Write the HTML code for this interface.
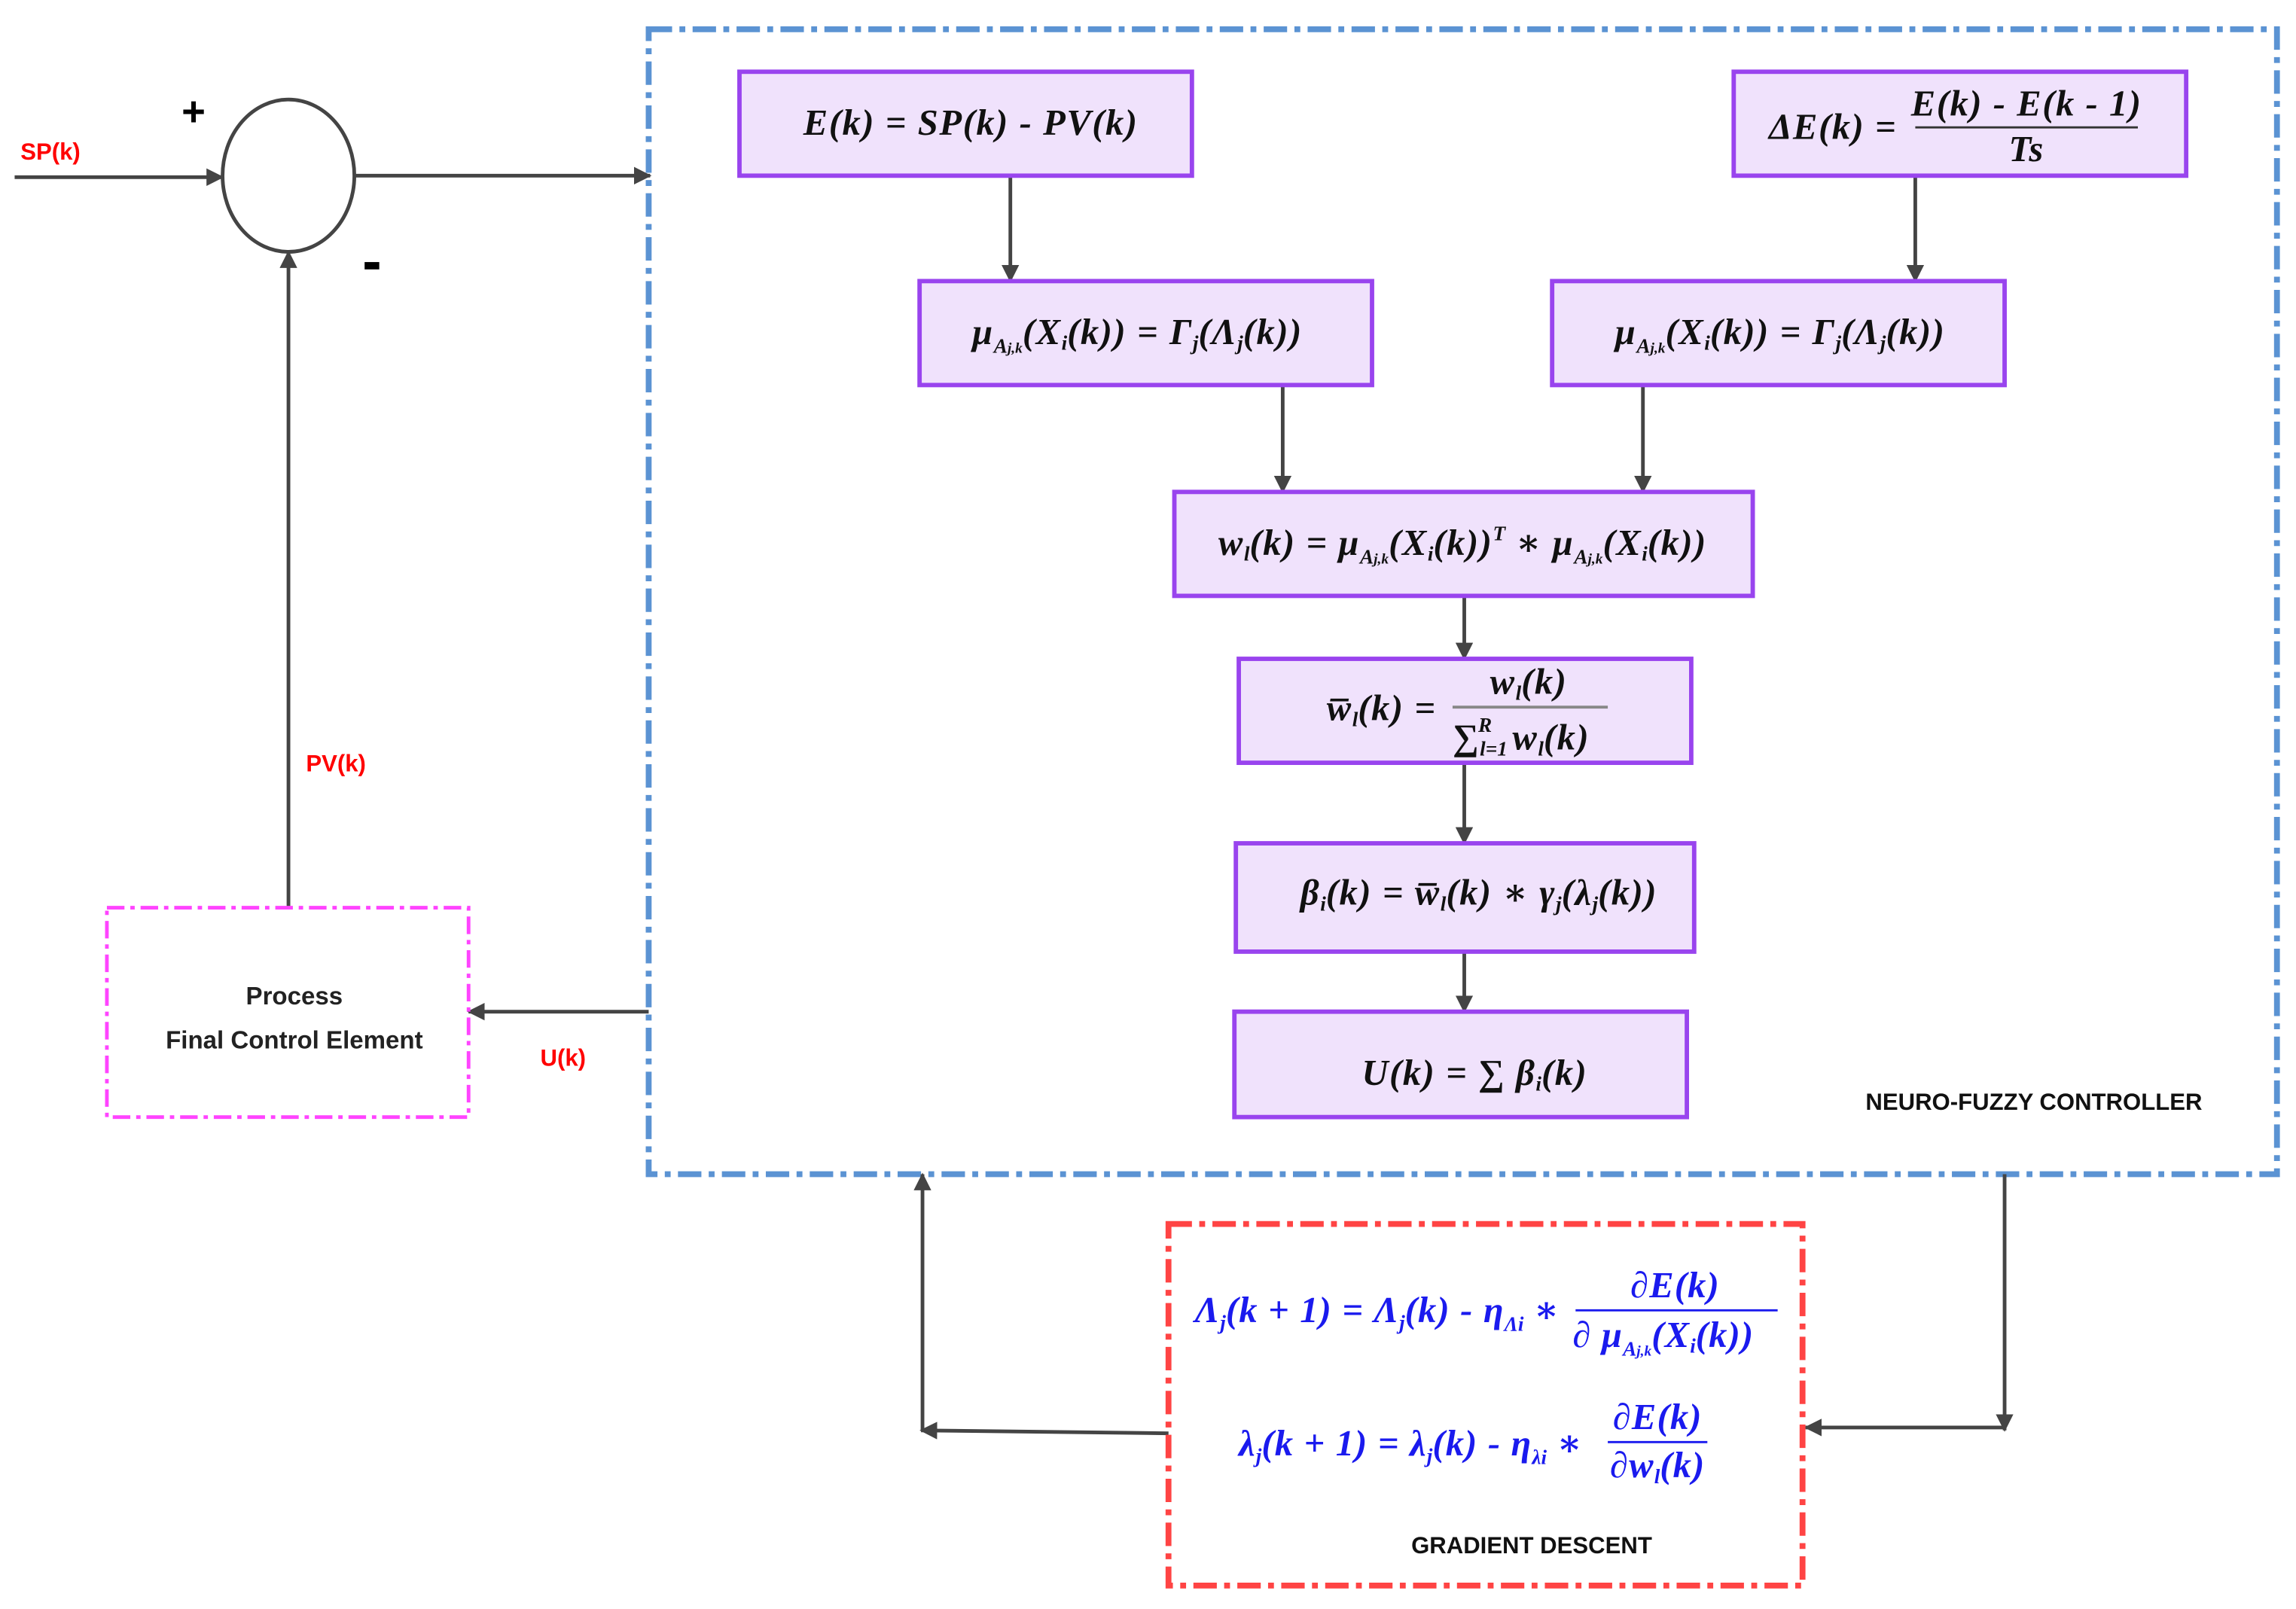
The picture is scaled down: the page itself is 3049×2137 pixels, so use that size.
<!DOCTYPE html>
<html><head><meta charset="utf-8"><style>
html,body{margin:0;padding:0;background:#fff;}
svg{display:block;}
.m{font-family:"Liberation Serif","DejaVu Serif",serif;font-style:italic;font-weight:bold;font-size:25px;letter-spacing:0.8px;fill:#111;}
.b{font-family:"Liberation Serif","DejaVu Serif",serif;font-style:italic;font-weight:bold;font-size:25px;letter-spacing:0.6px;fill:#1a1aee;}
.s{font-size:14px;letter-spacing:0;}
.lab{font-family:"Liberation Sans",sans-serif;font-weight:bold;font-size:16px;}
</style></head><body>
<svg width="3049" height="2137" viewBox="0 0 1568 1099" preserveAspectRatio="none" xmlns="http://www.w3.org/2000/svg">
<defs>
<marker id="a" markerWidth="12" markerHeight="12" refX="11" refY="6" orient="auto" markerUnits="userSpaceOnUse"><path d="M0,0 L12,6 L0,12 z" fill="#444"/></marker>
</defs>
<rect width="1568" height="1099" fill="#fff"/>
<rect x="443" y="20" width="1112" height="782" fill="none" stroke="#5b93d3" stroke-width="4" stroke-dasharray="16,5,4,5"/>
<ellipse cx="197" cy="120" rx="45" ry="52" fill="none" stroke="#444" stroke-width="2.5"/>
<text x="124" y="86" font-family="Liberation Sans" font-weight="bold" font-size="28">+</text>
<rect x="249" y="179" width="10" height="5" fill="#000"/>
<text x="14" y="109" class="lab" fill="#f00">SP(k)</text>
<text x="209" y="527" class="lab" fill="#f00">PV(k)</text>
<text x="369" y="728" class="lab" fill="#f00">U(k)</text>
<g stroke="#444" stroke-width="2.5" fill="none">
<line x1="10" y1="121" x2="152" y2="121" marker-end="url(#a)"/>
<line x1="242" y1="120" x2="444" y2="120" marker-end="url(#a)"/>
<line x1="197" y1="620" x2="197" y2="172" marker-end="url(#a)"/>
<line x1="443" y1="691" x2="320" y2="691" marker-end="url(#a)"/>
<line x1="690" y1="121" x2="690" y2="192" marker-end="url(#a)"/>
<line x1="1308" y1="121" x2="1308" y2="192" marker-end="url(#a)"/>
<line x1="876" y1="264" x2="876" y2="336" marker-end="url(#a)"/>
<line x1="1122" y1="264" x2="1122" y2="336" marker-end="url(#a)"/>
<line x1="1000" y1="408" x2="1000" y2="450" marker-end="url(#a)"/>
<line x1="1000" y1="522" x2="1000" y2="576" marker-end="url(#a)"/>
<line x1="1000" y1="651" x2="1000" y2="691" marker-end="url(#a)"/>
<line x1="798" y1="979" x2="629" y2="977" marker-end="url(#a)"/>
<line x1="630" y1="977" x2="630" y2="802" marker-end="url(#a)"/>
<line x1="1369" y1="802" x2="1369" y2="977" marker-end="url(#a)"/>
<line x1="1369" y1="975" x2="1233" y2="975" marker-end="url(#a)"/>
</g>
<rect x="73" y="620" width="247" height="143" fill="none" stroke="#ff44ff" stroke-width="2.5" stroke-dasharray="12,4,3,4"/>
<text x="201" y="686" text-anchor="middle" font-family="Liberation Sans" font-weight="bold" font-size="17" fill="#222">Process</text>
<text x="201" y="716" text-anchor="middle" font-family="Liberation Sans" font-weight="bold" font-size="17" fill="#222">Final Control Element</text>
<g fill="#f0e2fc" stroke="#9944ee" stroke-width="3">
<rect x="505" y="49" width="309" height="71"/>
<rect x="1184" y="49" width="309" height="71"/>
<rect x="628" y="192" width="309" height="71"/>
<rect x="1060" y="192" width="309" height="71"/>
<rect x="802" y="336" width="395" height="71"/>
<rect x="846" y="450" width="309" height="71"/>
<rect x="844" y="576" width="313" height="74"/>
<rect x="843" y="691" width="309" height="72"/>
</g>
<text x="663" y="92" text-anchor="middle" class="m">E(k) = SP(k) - PV(k)</text>
<text x="1208" y="95" class="m">ΔE(k) =</text>
<text x="1384" y="79" text-anchor="middle" class="m">E(k) - E(k - 1)</text>
<line x1="1308" y1="87" x2="1460" y2="87" stroke="#333" stroke-width="1.5"/>
<text x="1384" y="110" text-anchor="middle" class="m">Ts</text>
<text x="664" y="235" class="m">μ<tspan class="s" dy="6">A<tspan font-size="10">j,k</tspan></tspan><tspan dy="-6">(X</tspan><tspan class="s" dy="4">i</tspan><tspan dy="-4">(k)) = Γ</tspan><tspan class="s" dy="4">j</tspan><tspan dy="-4">(Λ</tspan><tspan class="s" dy="4">j</tspan><tspan dy="-4">(k))</tspan></text>
<text x="1103" y="235" class="m">μ<tspan class="s" dy="6">A<tspan font-size="10">j,k</tspan></tspan><tspan dy="-6">(X</tspan><tspan class="s" dy="4">i</tspan><tspan dy="-4">(k)) = Γ</tspan><tspan class="s" dy="4">j</tspan><tspan dy="-4">(Λ</tspan><tspan class="s" dy="4">j</tspan><tspan dy="-4">(k))</tspan></text>
<text x="832" y="379" class="m">w<tspan class="s" dy="4">l</tspan><tspan dy="-4">(k) = μ</tspan><tspan class="s" dy="6">A<tspan font-size="10">j,k</tspan></tspan><tspan dy="-6">(X</tspan><tspan class="s" dy="4">i</tspan><tspan dy="-4">(k))</tspan><tspan class="s" dy="-10">T</tspan><tspan dy="10"> ∗ μ</tspan><tspan class="s" dy="6">A<tspan font-size="10">j,k</tspan></tspan><tspan dy="-6">(X</tspan><tspan class="s" dy="4">i</tspan><tspan dy="-4">(k))</tspan></text>
<text x="906" y="492" class="m">w̅<tspan class="s" dy="4">l</tspan><tspan dy="-4">(k) =</tspan></text>
<text x="1044" y="474" text-anchor="middle" class="m">w<tspan class="s" dy="4">l</tspan><tspan dy="-4">(k)</tspan></text>
<line x1="992" y1="483" x2="1098" y2="483" stroke="#888" stroke-width="2"/>
<text x="992" y="512" class="m">∑<tspan class="s" dy="4">l=1</tspan><tspan class="s" dx="-20" dy="-16">R</tspan><tspan dx="14" dy="12">w</tspan><tspan class="s" dy="4">l</tspan><tspan dy="-4">(k)</tspan></text>
<text x="888" y="618" class="m">β<tspan class="s" dy="4">i</tspan><tspan dy="-4">(k) = w̅</tspan><tspan class="s" dy="4">l</tspan><tspan dy="-4">(k) ∗ γ</tspan><tspan class="s" dy="4">j</tspan><tspan dy="-4">(λ</tspan><tspan class="s" dy="4">j</tspan><tspan dy="-4">(k))</tspan></text>
<text x="930" y="741" class="m">U(k) = ∑ β<tspan class="s" dy="4">i</tspan><tspan dy="-4">(k)</tspan></text>
<text x="1389" y="758" text-anchor="middle" class="lab" fill="#111">NEURO-FUZZY CONTROLLER</text>
<rect x="798" y="836" width="433" height="247" fill="none" stroke="#ff4444" stroke-width="4" stroke-dasharray="16,5,4,5"/>
<text x="816" y="903" class="b">Λ<tspan class="s" dy="5">j</tspan><tspan dy="-5">(k + 1) =  Λ</tspan><tspan class="s" dy="5">j</tspan><tspan dy="-5">(k) - η</tspan><tspan class="s" dy="6">Λi</tspan><tspan dy="-6"> ∗</tspan></text>
<text x="1144" y="886" text-anchor="middle" class="b">∂E(k)</text>
<line x1="1076" y1="895" x2="1214" y2="895" stroke="#1a1aee" stroke-width="1.5"/>
<text x="1074" y="920" class="b">∂ μ<tspan class="s" dy="6">A<tspan font-size="10">j,k</tspan></tspan><tspan dy="-6">(X</tspan><tspan class="s" dy="4">i</tspan><tspan dy="-4">(k))</tspan></text>
<text x="846" y="994" class="b">λ<tspan class="s" dy="5">j</tspan><tspan dy="-5">(k + 1) =  λ</tspan><tspan class="s" dy="5">j</tspan><tspan dy="-5">(k) - η</tspan><tspan class="s" dy="6">λi</tspan><tspan dy="-6"> ∗</tspan></text>
<text x="1132" y="976" text-anchor="middle" class="b">∂E(k)</text>
<line x1="1098" y1="985" x2="1166" y2="985" stroke="#1a1aee" stroke-width="1.5"/>
<text x="1132" y="1009" text-anchor="middle" class="b">∂w<tspan class="s" dy="4">l</tspan><tspan dy="-4">(k)</tspan></text>
<text x="1046" y="1061" text-anchor="middle" class="lab" fill="#111">GRADIENT DESCENT</text>
</svg>
</body></html>
